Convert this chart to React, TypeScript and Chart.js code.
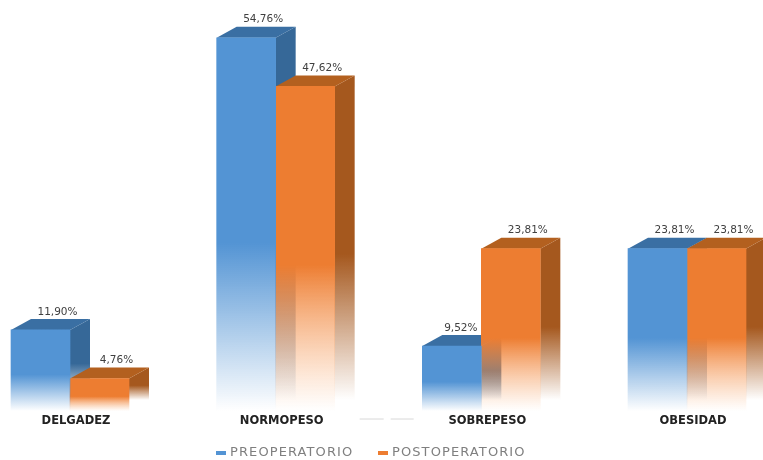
import React, { useEffect, useRef } from "react";
import { Chart, registerables } from "chart.js";

Chart.register(...registerables);

const categories = ["DELGADEZ", "NORMOPESO", "SOBREPESO", "OBESIDAD"];
const seriesNames = ["PREOPERATORIO", "POSTOPERATORIO"];
const preoperatorio = [11.9, 54.76, 9.52, 23.81];
const postoperatorio = [4.76, 47.62, 23.81, 23.81];

const DEPTH_X = 20;
const DEPTH_Y = 11;
const WIDE_FONT = "'DejaVu Sans', sans-serif";

type Tone = { front: string; frontClear: string; side: string; sideClear: string; top: string; key: string };

const blue: Tone = {
  front: "rgba(83,148,212,1)",
  frontClear: "rgba(83,148,212,0)",
  side: "rgba(54,104,152,1)",
  sideClear: "rgba(54,104,152,0)",
  top: "#3a6fa3",
  key: "#5394d4",
};
const orange: Tone = {
  front: "rgba(237,125,49,1)",
  frontClear: "rgba(250,170,110,0)",
  side: "rgba(165,88,30,1)",
  sideClear: "rgba(165,88,30,0)",
  top: "#b3601f",
  key: "#ed7d31",
};

// Colour holds down to just past half of the bar, then fades out towards the base.
function fade(ctx: CanvasRenderingContext2D, top: number, base: number, solid: string, clear: string) {
  const g = ctx.createLinearGradient(0, top, 0, base);
  g.addColorStop(0, solid);
  g.addColorStop(0.55, solid);
  g.addColorStop(1, clear);
  return g;
}

const frontFill = (tone: Tone) => (c: any) => {
  const { chart, raw } = c;
  const yScale = chart.scales.y;
  if (!yScale || raw === undefined) return tone.front;
  const top = yScale.getPixelForValue(raw);
  const base = yScale.getPixelForValue(0);
  // The scale has no pixel range until the first layout pass has run.
  if (!Number.isFinite(top) || !Number.isFinite(base)) return tone.front;
  return fade(chart.ctx, top, base, tone.front, tone.frontClear);
};

// Extruded side and top faces, painted behind the library's front rectangles.
const extrusion = {
  id: "extrusion",
  beforeDatasetsDraw(chart: any) {
    const ctx: CanvasRenderingContext2D = chart.ctx;
    [blue, orange].forEach((tone, i) => {
      chart.getDatasetMeta(i).data.forEach((bar: any) => {
        const left = bar.x - bar.width / 2;
        const right = bar.x + bar.width / 2;
        const top = bar.y;
        const base = bar.base;
        ctx.fillStyle = fade(ctx, top - DEPTH_Y, base - DEPTH_Y, tone.side, tone.sideClear);
        ctx.beginPath();
        ctx.moveTo(right, top);
        ctx.lineTo(right + DEPTH_X, top - DEPTH_Y);
        ctx.lineTo(right + DEPTH_X, base - DEPTH_Y);
        ctx.lineTo(right, base);
        ctx.closePath();
        ctx.fill();
        ctx.fillStyle = tone.top;
        ctx.beginPath();
        ctx.moveTo(left, top);
        ctx.lineTo(left + DEPTH_X, top - DEPTH_Y);
        ctx.lineTo(right + DEPTH_X, top - DEPTH_Y);
        ctx.lineTo(right, top);
        ctx.closePath();
        ctx.fill();
      });
    });
  },
};

// Percentage labels sit above each bar's top face; a label beside a taller
// neighbouring bar moves back so it stays clear of that bar.
const valueLabels = {
  id: "valueLabels",
  afterDatasetsDraw(chart: any) {
    const ctx: CanvasRenderingContext2D = chart.ctx;
    ctx.save();
    ctx.font = `10.5px ${WIDE_FONT}`;
    ctx.fillStyle = "#404040";
    ctx.textAlign = "center";
    ctx.textBaseline = "middle";
    chart.data.datasets.forEach((ds: any, i: number) => {
      chart.getDatasetMeta(i).data.forEach((bar: any, j: number) => {
        const text = ds.data[j].toFixed(2).replace(".", ",") + "%";
        const blocked = i === 0 && postoperatorio[j] > ds.data[j];
        ctx.fillText(text, bar.x + (blocked ? 9 : 17), bar.y - 18);
      });
    });
    ctx.restore();
  },
};

// Key row along the bottom edge.
const keyRow = {
  id: "keyRow",
  afterDraw(chart: any) {
    const ctx: CanvasRenderingContext2D = chart.ctx;
    const y = chart.height - 7;
    ctx.save();
    ctx.font = `13px ${WIDE_FONT}`;
    (ctx as any).letterSpacing = "1.1px";
    ctx.textBaseline = "middle";
    ctx.textAlign = "left";
    const slots = [216, 378];
    [blue, orange].forEach((tone, i) => {
      ctx.fillStyle = tone.key;
      ctx.fillRect(slots[i], y - 2, 10, 4);
      ctx.fillStyle = "#7f7f7f";
      ctx.fillText(seriesNames[i], slots[i] + 14, y);
    });
    ctx.restore();
  },
};

// Faint dashes on the axis-label row, between the second and third groups.
const faintDashes = {
  id: "faintDashes",
  afterDraw(chart: any) {
    const ctx: CanvasRenderingContext2D = chart.ctx;
    const y = chart.chartArea.bottom + 8;
    const x = chart.scales.x.getPixelForValue(1) + 84;
    ctx.save();
    ctx.strokeStyle = "#d8d8d8";
    ctx.lineWidth = 1;
    ctx.setLineDash([24, 7]);
    ctx.beginPath();
    ctx.moveTo(x, y);
    ctx.lineTo(x + 54, y);
    ctx.stroke();
    ctx.restore();
  },
};

export default function App() {
  const ref = useRef<HTMLCanvasElement>(null);
  useEffect(() => {
    const chart = new Chart(ref.current!, {
      type: "bar",
      data: {
        labels: categories,
        datasets: [
          {
            label: seriesNames[0],
            data: preoperatorio,
            backgroundColor: frontFill(blue),
            barThickness: 59,
            clip: false,
          },
          {
            label: seriesNames[1],
            data: postoperatorio,
            backgroundColor: frontFill(orange),
            barThickness: 59,
            clip: false,
          },
        ] as any,
      },
      plugins: [extrusion, valueLabels, keyRow, faintDashes],
      options: {
        responsive: false,
        animation: false,
        layout: { padding: { left: 70, right: 76, top: 2, bottom: 29 } },
        plugins: {
          tooltip: { enabled: false },
          legend: { display: false },
        },
        scales: {
          x: {
            offset: false,
            grid: { display: false, drawTicks: false },
            border: { display: false },
            afterFit: (s: any) => {
              s.height = 20;
            },
            ticks: {
              autoSkip: false,
              maxRotation: 0,
              padding: 3,
              labelOffset: 6,
              color: "#222222",
              font: { family: WIDE_FONT, size: 11.5, weight: "bold" },
            },
          },
          y: { display: false, min: 0, max: 60 },
        },
      } as any,
    });
    return () => chart.destroy();
  }, []);
  return (
    <canvas
      ref={ref}
      width={763}
      height={460}
      style={{ position: "absolute", left: 0, top: 0, display: "block" }}
    />
  );
}
